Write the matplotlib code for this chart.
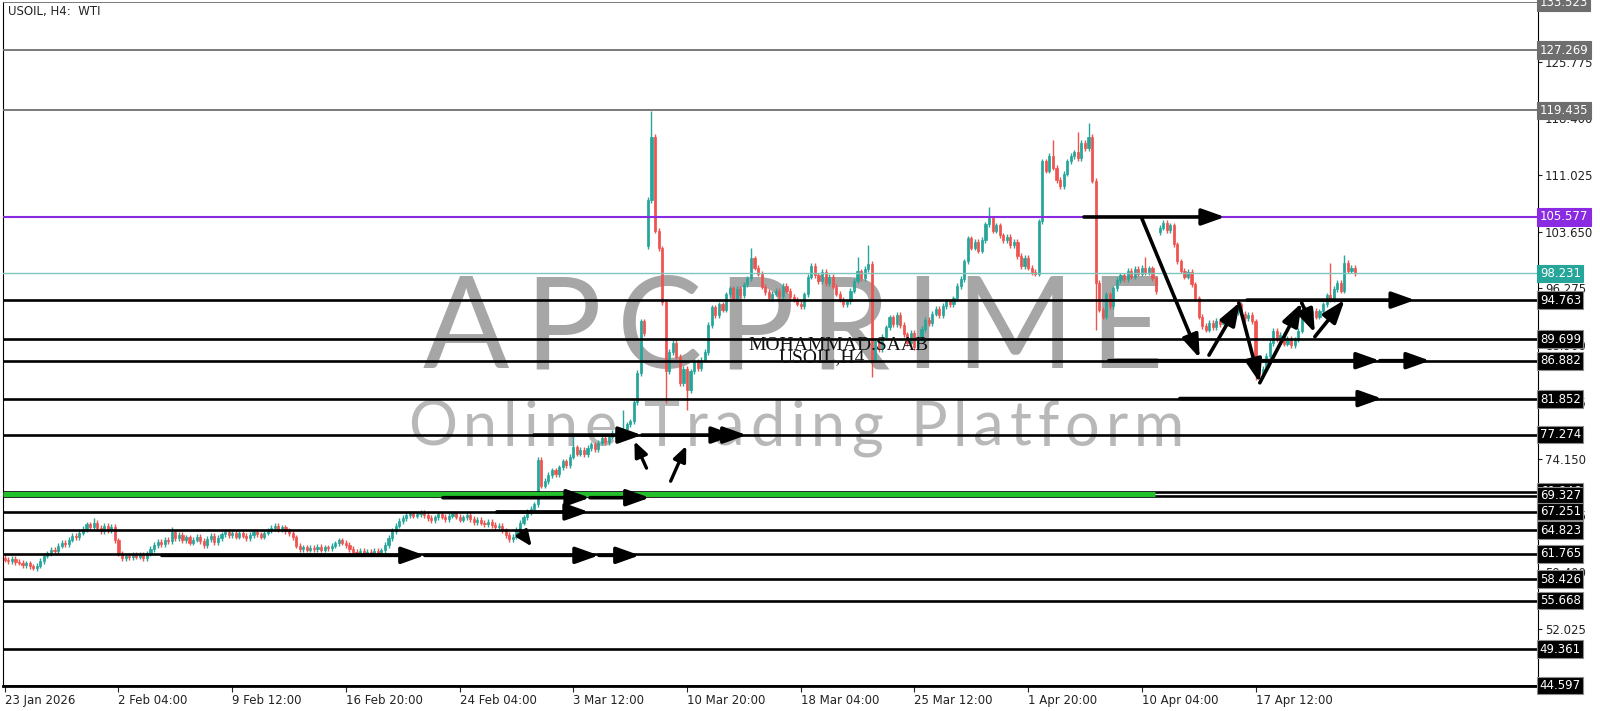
import matplotlib
matplotlib.use("Agg")
import matplotlib.pyplot as plt
from matplotlib.patches import Rectangle

# H4 closes, one per bar
closes = [
    61.0, 60.8, 61.1, 60.7, 60.6, 60.3, 60.5, 60.1, 59.9, 60.2,
    60.8, 61.5, 61.8, 62.3, 62.1, 62.8, 63.2, 63.0, 63.6, 64.1,
    63.9, 64.5, 65.0, 65.6, 65.2, 65.8, 65.1, 64.7, 65.4, 64.8,
    65.3, 63.5, 61.8, 61.2, 61.5, 61.3, 61.7, 61.4, 61.6, 61.2,
    61.8, 62.4, 62.9, 63.3, 63.0, 63.6, 63.4, 64.6, 63.8, 64.2,
    63.5, 63.9, 63.2, 63.6, 64.0, 63.4, 62.9, 63.7, 64.1, 63.3,
    63.8, 64.3, 64.6, 64.2, 64.5, 64.0, 64.4, 64.1, 63.8, 64.2,
    64.6, 64.3, 64.0, 64.5, 64.8, 65.1, 65.4, 64.9, 65.2, 64.7,
    64.4, 63.9, 62.8, 62.4, 62.6, 62.3, 62.5, 62.4, 62.7, 62.3,
    62.6, 62.5, 62.8, 63.1, 63.5, 63.2, 62.9, 62.4, 62.0, 61.8,
    62.1, 61.9, 62.0, 61.8, 62.1, 61.9, 62.2, 62.9, 63.8, 64.7,
    65.4, 66.0, 66.4, 66.8, 67.0, 66.7, 66.9, 67.1, 66.8, 66.4,
    66.1, 66.5, 66.9, 66.6, 66.3, 66.7, 67.0, 66.6, 66.2, 66.5,
    66.8, 66.3, 65.9, 66.2, 65.8, 65.6, 65.9, 65.5, 65.2, 65.4,
    64.8, 64.2, 63.7, 64.0, 64.9, 65.8, 66.5, 67.2, 67.6, 68.2,
    74.0, 70.6, 71.2, 72.0, 72.6, 72.1, 73.0, 73.8, 73.3, 74.4,
    75.6, 74.8, 75.3, 74.7, 75.5, 76.0, 75.4, 76.2, 76.8, 76.3,
    77.0, 77.5, 77.1, 77.8, 78.0, 78.6, 79.0, 81.5, 85.3, 92.0,
    90.5, 107.8, 116.0, 103.8, 101.5, 94.5, 85.5, 88.0, 89.2, 87.4,
    84.0, 85.8, 83.0, 85.5, 86.8, 85.9, 87.0, 88.0, 91.5, 93.8,
    92.8, 94.2, 93.5, 95.5, 96.3, 95.0, 96.2, 95.4, 96.8, 97.6,
    100.2, 99.0, 98.2, 96.5, 95.8, 95.0, 95.6, 96.0, 95.3, 96.6,
    96.0, 95.2, 94.8, 94.3, 94.0, 95.5, 97.8, 99.2, 98.0, 97.2,
    98.4, 97.0, 97.8, 96.5, 95.6, 94.8, 94.2, 94.6, 96.0, 97.3,
    98.5, 97.6, 98.8, 99.5, 87.0, 89.5, 88.4, 90.0, 91.2, 92.5,
    91.6, 92.8, 91.5, 90.3, 89.2, 90.5, 88.6, 89.8, 91.0, 92.2,
    91.8, 93.0, 93.6, 92.8, 94.0, 94.6, 94.2, 95.0, 96.6, 97.5,
    99.8, 102.8, 101.6, 102.3, 101.2, 102.6, 104.6, 105.4, 103.8, 104.5,
    103.2, 102.6, 103.0, 101.9, 102.3, 100.5, 99.2, 100.3, 99.0, 98.4,
    98.2, 105.0, 112.8, 111.6, 113.5, 112.0, 110.4, 109.6, 111.2, 112.8,
    113.5, 114.0, 113.2, 115.2, 114.5, 116.0, 110.3, 97.0, 93.5, 92.6,
    95.5, 94.0, 96.3, 97.4, 98.0, 97.5, 98.6, 97.8, 98.8, 98.2,
    99.0, 98.4, 98.9, 97.6, 95.9, 104.2, 104.8, 103.9, 104.5, 102.0,
    99.8, 98.6, 97.8, 98.4, 96.8, 95.0, 92.6, 91.4, 90.9, 91.8,
    91.2, 92.1, 91.6, 92.4, 91.8, 92.6, 93.2, 94.2, 93.0, 92.4,
    92.8, 92.0, 86.2, 85.2, 85.8, 87.5, 89.2, 90.8, 89.6, 90.2,
    89.1, 89.7, 88.9, 89.6, 90.8, 92.5, 93.6, 92.8, 93.4, 92.6,
    93.3, 94.2, 95.4, 94.9, 96.2, 97.0, 96.0, 99.6, 98.6, 99.0, 98.231,
]
# bars that opened with a gap
gap_opens = {0: 61.2, 181: 101.8, 325: 103.6}
# long wicks
wick_highs = {25: 66.4, 47: 65.3, 160: 77.5, 174: 80.5, 182: 119.4, 210: 101.5,
              240: 100.4, 243: 101.9, 277: 106.9, 295: 115.6, 302: 116.6,
              305: 117.8, 321: 100.4, 326: 105.2, 373: 99.6, 377: 100.6}
wick_lows = {8: 59.6, 142: 63.3, 186: 81.4, 192: 80.5, 244: 84.7, 307: 90.9,
             352: 84.4}

tick_pos = [0, 32, 64, 96, 128, 160, 192, 224, 256, 288, 320, 352]
tick_labels = ["23 Jan 2026", "2 Feb 04:00", "9 Feb 12:00", "16 Feb 20:00",
               "24 Feb 04:00", "3 Mar 12:00", "10 Mar 20:00", "18 Mar 04:00",
               "25 Mar 12:00", "1 Apr 20:00", "10 Apr 04:00", "17 Apr 12:00"]
price_ticks = [52.025, 59.400, 66.775, 74.150, 81.525, 88.900, 96.275,
               103.650, 111.025, 118.400, 125.775]

gray_levels = [133.523, 127.269, 119.435]
purple_level = 105.577
last_price = 98.231
black_levels = [94.763, 89.699, 86.882, 81.852, 77.274, 69.846, 69.327,
                67.251, 64.823, 61.765, 58.426, 55.668, 49.361, 44.597]

# drawn arrows: (bar0, price0, bar1, price1)
arrows = [
    (303.7, 105.577, 343.4, 105.577),
    (320.0, 105.4, 336.3, 87.2),
    (310.7, 86.88, 387.0, 86.88),
    (387.0, 86.88, 401.1, 86.88),
    (338.9, 87.6, 347.6, 94.5),
    (347.3, 94.4, 353.2, 84.0),
    (353.2, 84.0, 365.0, 94.4),
    (365.0, 94.4, 368.7, 90.5),
    (368.7, 90.0, 377.1, 94.8),
    (349.6, 94.763, 396.9, 94.763),
    (330.7, 81.95, 387.6, 81.95),
    (148.9, 77.2, 179.3, 77.2),
    (179.3, 77.2, 205.5, 77.2),
    (205.5, 77.2, 208.8, 77.2),
    (123.3, 69.05, 164.7, 69.05),
    (164.7, 69.05, 181.5, 69.05),
    (138.5, 67.2, 164.4, 67.2),
    (44.2, 61.55, 118.2, 61.55),
    (118.2, 61.55, 167.2, 61.55),
    (167.2, 61.55, 178.7, 61.55),
]
# short ones with smaller heads
small_arrows = [
    (180.6, 72.9, 177.2, 76.4),
    (187.4, 71.2, 191.8, 75.8),
    (145.0, 64.8, 148.3, 62.7),
]

UP = "#26a69a"
DOWN = "#ef5350"


def spaced_text(fig, cx, baseline, s, size, width, **kw):
    # lay out single glyphs so the word spans the given pixel width
    r = fig.canvas.get_renderer()
    ws = []
    for ch in s:
        if ch == " ":
            ws.append(size * 0.25 * 100 / 72)
            continue
        t = fig.text(0, 0, ch, fontsize=size, **kw)
        ws.append(t.get_window_extent(r).width)
        t.remove()
    track = (width - sum(ws)) / (len(s) - 1)
    x = cx - width / 2
    for ch, w in zip(s, ws):
        if ch != " ":
            fig.text(x / 1600, 1 - baseline / 711, ch, fontsize=size,
                     va="baseline", ha="left", **kw)
        x += w + track


def main():
    fig = plt.figure(figsize=(16, 7.11), dpi=100)
    ax = fig.add_axes([3 / 1600, 25 / 711, 1535 / 1600, 684 / 711])
    ax.set_xlim(-0.5, 431.5)
    ax.set_ylim(44.55, 133.55)

    # candles
    prev = closes[0]
    for i, c in enumerate(closes):
        o = gap_opens.get(i, prev)
        hi = wick_highs.get(i, max(o, c) + 0.35)
        lo = wick_lows.get(i, min(o, c) - 0.35)
        col = UP if c >= o else DOWN
        ax.vlines(i, lo, hi, color=col, lw=1, zorder=2)
        ax.add_patch(Rectangle((i - 0.3, min(o, c)), 0.6, max(abs(c - o), 0.08),
                               facecolor=col, edgecolor=col, lw=0.5, zorder=2))
        prev = c

    # levels
    for lv in gray_levels:
        ax.axhline(lv, color="#6e6e6e", lw=1.3, zorder=3)
    ax.axhline(purple_level, color="#8a2be2", lw=1.5, zorder=3)
    ax.axhline(last_price, color="#7fc4bd", lw=1, zorder=3)
    for lv in black_levels:
        ax.axhline(lv, color="black", lw=1.9, zorder=3)
    ax.plot([-0.5, 323.7], [69.58, 69.58], color="#22c02a", lw=3.6,
            solid_capstyle="butt", zorder=3.5)

    for x0, y0, x1, y1 in arrows:
        ax.annotate("", xy=(x1, y1), xytext=(x0, y0),
                    arrowprops=dict(arrowstyle="-|>,head_length=0.7,head_width=0.25",
                                    color="black", lw=2.6, shrinkA=0, shrinkB=0,
                                    mutation_scale=20), zorder=5)
    for x0, y0, x1, y1 in small_arrows:
        ax.annotate("", xy=(x1, y1), xytext=(x0, y0),
                    arrowprops=dict(arrowstyle="-|>,head_length=0.7,head_width=0.3",
                                    color="black", lw=2.4, shrinkA=0, shrinkB=0,
                                    mutation_scale=13), zorder=5)

    # axes styling
    ax.spines["top"].set_visible(False)
    ax.spines["bottom"].set_linewidth(2)
    ax.spines["left"].set_linewidth(0.8)
    ax.spines["right"].set_linewidth(0.8)
    ax.yaxis.tick_right()
    ax.set_yticks(price_ticks)
    ax.set_yticklabels([f"{p:.3f}" for p in price_ticks])
    ax.tick_params(axis="y", direction="out", length=3, labelsize=8.5, pad=2,
                   colors="#222222")
    ax.set_xticks(tick_pos)
    ax.set_xticklabels(tick_labels, ha="left")
    ax.tick_params(axis="x", direction="out", length=4, labelsize=8.5, pad=2,
                   colors="#222222")

    # price tags on the right
    tags = [(p, "#6e6e6e") for p in gray_levels] + [(purple_level, "#8a2be2"),
                                                    (last_price, "#26a69a")]
    tags += [(p, "black") for p in black_levels]
    tr = ax.get_yaxis_transform()
    for p, col in tags:
        ax.text(1.0012, p, f"{p:.3f}", transform=tr, color="white", fontsize=8.5,
                va="center", ha="left", clip_on=False, zorder=6,
                bbox=dict(boxstyle="square,pad=0.2", fc=col,
                          ec="#8c8c8c" if col == "black" else col, lw=0.8))

    # watermark and labels
    ax.set_zorder(1)
    ax.patch.set_alpha(0)
    spaced_text(fig, 793, 368, "APCPRIME", 92, 740, family="Lato",
                fontweight="normal", color="#a6a6a6", zorder=0.5)
    spaced_text(fig, 796, 446, "Online Trading Platform", 44, 776, family="Lato",
                fontweight="normal", color="#b8b8b8", zorder=0.5)
    fig.text(838 / 1600, 1 - 345 / 711, "MOHAMMAD.SAAB", fontsize=14,
             family="Liberation Serif", color="#111111", ha="center", va="center",
             zorder=4)
    fig.text(822 / 1600, 1 - 358 / 711, "USOIL,H4", fontsize=14,
             family="Liberation Serif", color="#111111", ha="center", va="center",
             zorder=4)
    ax.text(0.003, 0.995, "USOIL, H4:  WTI", transform=ax.transAxes, fontsize=8.5,
            color="#222222", va="top", ha="left")

    fig.savefig("out.png", dpi=100, facecolor="white")


if __name__ == "__main__":
    main()
